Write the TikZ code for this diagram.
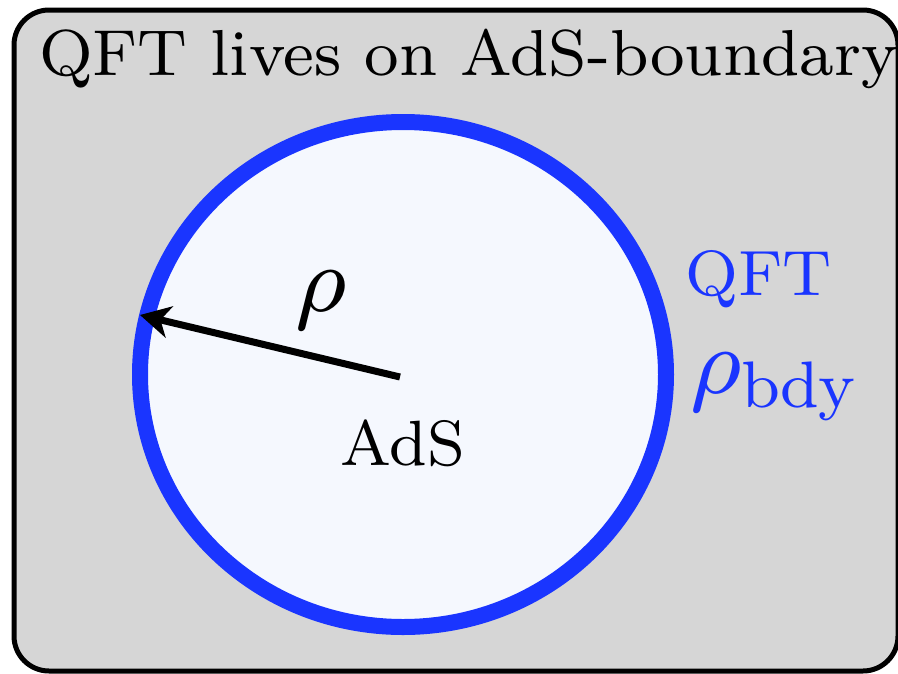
\RequirePackage{fix-cm}
\documentclass[tikz,border=0pt]{standalone}
\usepackage{fontspec}
\setmainfont{lmroman8-regular.otf}
\DeclareFontShape{OML}{cmm}{m}{it}{<->s*[1]cmmi8}{\skewchar\font'177}
\DeclareFontShape{OT1}{cmr}{m}{n}{<->s*[1]cmr8}{}
\usetikzlibrary{arrows.meta,shapes.geometric}
\definecolor{boxgray}{RGB}{214,214,214}
\definecolor{adsfill}{RGB}{245,248,254}
\definecolor{bdyblue}{RGB}{26,53,255}
\tikzset{
  frame/.style={draw=black,line width=5pt,fill=boxgray,rounded corners=35pt},
  adsdisk/.style={ellipse,draw=bdyblue,fill=adsfill,line width=16pt,minimum width=526pt,minimum height=505pt,inner sep=0pt},
  bigtext/.style={inner sep=0pt,font=\fontsize{64}{70}\selectfont},
  titletext/.style={inner sep=0pt,font=\fontsize{65}{70}\selectfont},
  mathtext/.style={inner sep=0pt,font=\fontsize{94}{100}\selectfont},
  radius arrow/.style={line width=7pt,-{Stealth[length=30pt,width=32pt,inset=9pt]}}
}
\begin{document}
\begin{tikzpicture}[x=1pt,y=-1pt]
\useasboundingbox (0,0) rectangle (898,673);
\begin{scope}
\clip (0,0) rectangle (898,673);
\draw[frame] (14,10) rectangle (898,671);
\end{scope}
\node[adsdisk] (ads) at (403,374.5) {};
\node[titletext,anchor=base west] (title) at (39,75) {QFT lives on AdS-boundary};
\node[bigtext,anchor=base] (adslabel) at (403,465) {AdS};
\node[bigtext,anchor=base west,text=bdyblue] (qft) at (685,295) {QFT};
\node[mathtext,anchor=base west,text=bdyblue] (rhobdy) at (690,393) {$\rho_{\mathrm{bdy}}$};
\coordinate (start) at (400,377);
\coordinate (tip) at (140,315);
\draw[radius arrow] (start) -- (tip);
\node[mathtext,anchor=base] (rho) at (321,311) {$\rho$};
\end{tikzpicture}
\end{document}
